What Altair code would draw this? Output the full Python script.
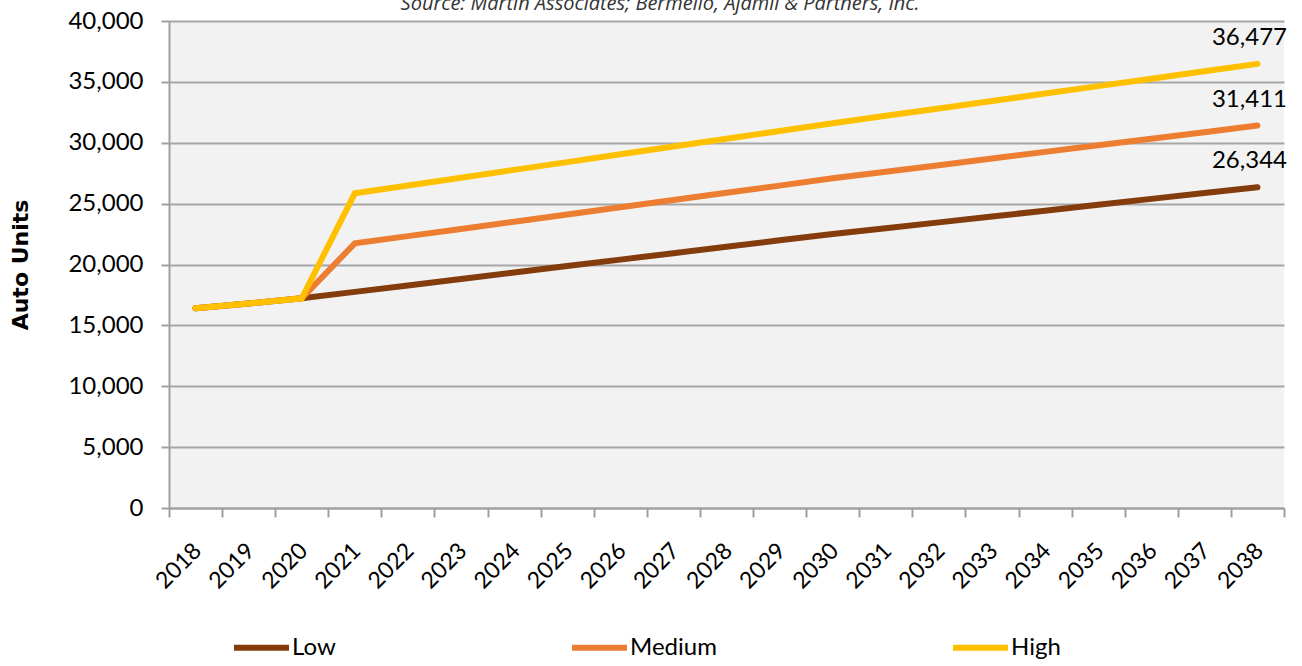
import altair as alt
import pandas as pd

# Auto unit forecast by scenario, 2018-2038
years = [str(y) for y in range(2018, 2039)]

low = [16400, 16800, 17220, 17750, 18280, 18810, 19340, 19870, 20400, 20930,
       21460, 21990, 22500, 22980, 23460, 23940, 24420, 24900, 25390, 25870, 26344]
medium = [16400, 16800, 17220, 21740, 22330, 22920, 23510, 24100, 24700, 25290,
          25890, 26480, 27080, 27620, 28160, 28700, 29250, 29790, 30330, 30870, 31411]
high = [16400, 16800, 17220, 25850, 26490, 27130, 27770, 28410, 29050, 29690,
        30330, 30960, 31600, 32210, 32820, 33430, 34040, 34650, 35260, 35870, 36477]

series_names = ["Low", "Medium", "High"]
series_colors = ["#843C0C", "#ED7D31", "#FFC000"]
y_ticks = [0, 5000, 10000, 15000, 20000, 25000, 30000, 35000, 40000]
source_note = "Source: Martin Associates; Bermello, Ajamil & Partners, Inc."

rows = []
for name, vals in zip(series_names, [low, medium, high]):
    for yr, v in zip(years, vals):
        rows.append({"year": yr, "scenario": name, "units": v})
df = pd.DataFrame(rows)

color = alt.Color(
    "scenario:N",
    scale=alt.Scale(domain=series_names, range=series_colors),
    legend=alt.Legend(
        title=None,
        orient="none",
        direction="horizontal",
        legendX=62,
        legendY=596,
        symbolType="stroke",
        symbolSize=3025,
        symbolStrokeWidth=6,
        labelFont="Lato",
        labelFontSize=24,
        labelColor="#000000",
        labelOffset=0,
        columnPadding=224,
        padding=0,
    ),
)

x_enc = alt.X(
    "year:O",
    sort=years,
    bandPosition=0.5,
    scale=alt.Scale(type="band", paddingInner=0, paddingOuter=0),
    axis=alt.Axis(
        title=None,
        labelAngle=-45,
        labelFont="Lato",
        labelFontSize=23,
        labelColor="#000000",
        labelPadding=22,
        labelOffset=-6,
        tickBand="extent",
        tickSize=9,
        tickColor="#A0A0A0",
        tickWidth=2,
        domainColor="#A0A0A0",
        domainWidth=2,
        grid=False,
    ),
)

y_enc = alt.Y(
    "units:Q",
    scale=alt.Scale(domain=[0, 40000], nice=False),
    axis=alt.Axis(
        title="Auto Units",
        titleFont="DejaVu Sans",
        titleFontWeight="bold",
        titleFontSize=22,
        titleColor="#000000",
        titlePadding=35,
        values=y_ticks,
        labelExpr="format(datum.value, ',')",
        labelFont="Lato",
        labelFontSize=24,
        labelColor="#000000",
        labelPadding=18,
        tickSize=8,
        tickColor="#A0A0A0",
        tickWidth=2,
        domainColor="#A0A0A0",
        domainWidth=2,
        gridColor="#A6A6A6",
        gridWidth=2,
    ),
)

base = alt.Chart(df)

layers = []
for name in series_names:
    layers.append(
        base.transform_filter(alt.datum.scenario == name)
        .mark_line(strokeWidth=6, strokeCap="round")
        .encode(x=x_enc, y=y_enc, color=color)
    )

end_labels = (
    base.transform_filter(alt.datum.year == years[-1])
    .mark_text(font="Lato", fontSize=24, color="#000000", align="center",
               baseline="alphabetic", dx=-8, dy=-19)
    .encode(x=x_enc, y=y_enc, text=alt.Text("units:Q", format=","))
)

note = (
    alt.Chart(pd.DataFrame({"note": [source_note]}))
    .mark_text(font="Open Sans", fontStyle="italic", fontSize=20,
               color="#333333", align="center", baseline="alphabetic")
    .encode(x=alt.value(491), y=alt.value(-11), text="note:N")
)

chart = (
    alt.layer(*layers, end_labels, note)
    .properties(
        width=1115,
        height=487,
        padding={"left": 169, "top": 21, "right": 18, "bottom": 158},
        autosize=alt.AutoSizeParams(type="none"),
        background="#FFFFFF",
    )
    .configure_view(fill="#F2F2F2", stroke=None)
)

chart.save("out.html", embed_options={"renderer": "svg", "actions": False})
